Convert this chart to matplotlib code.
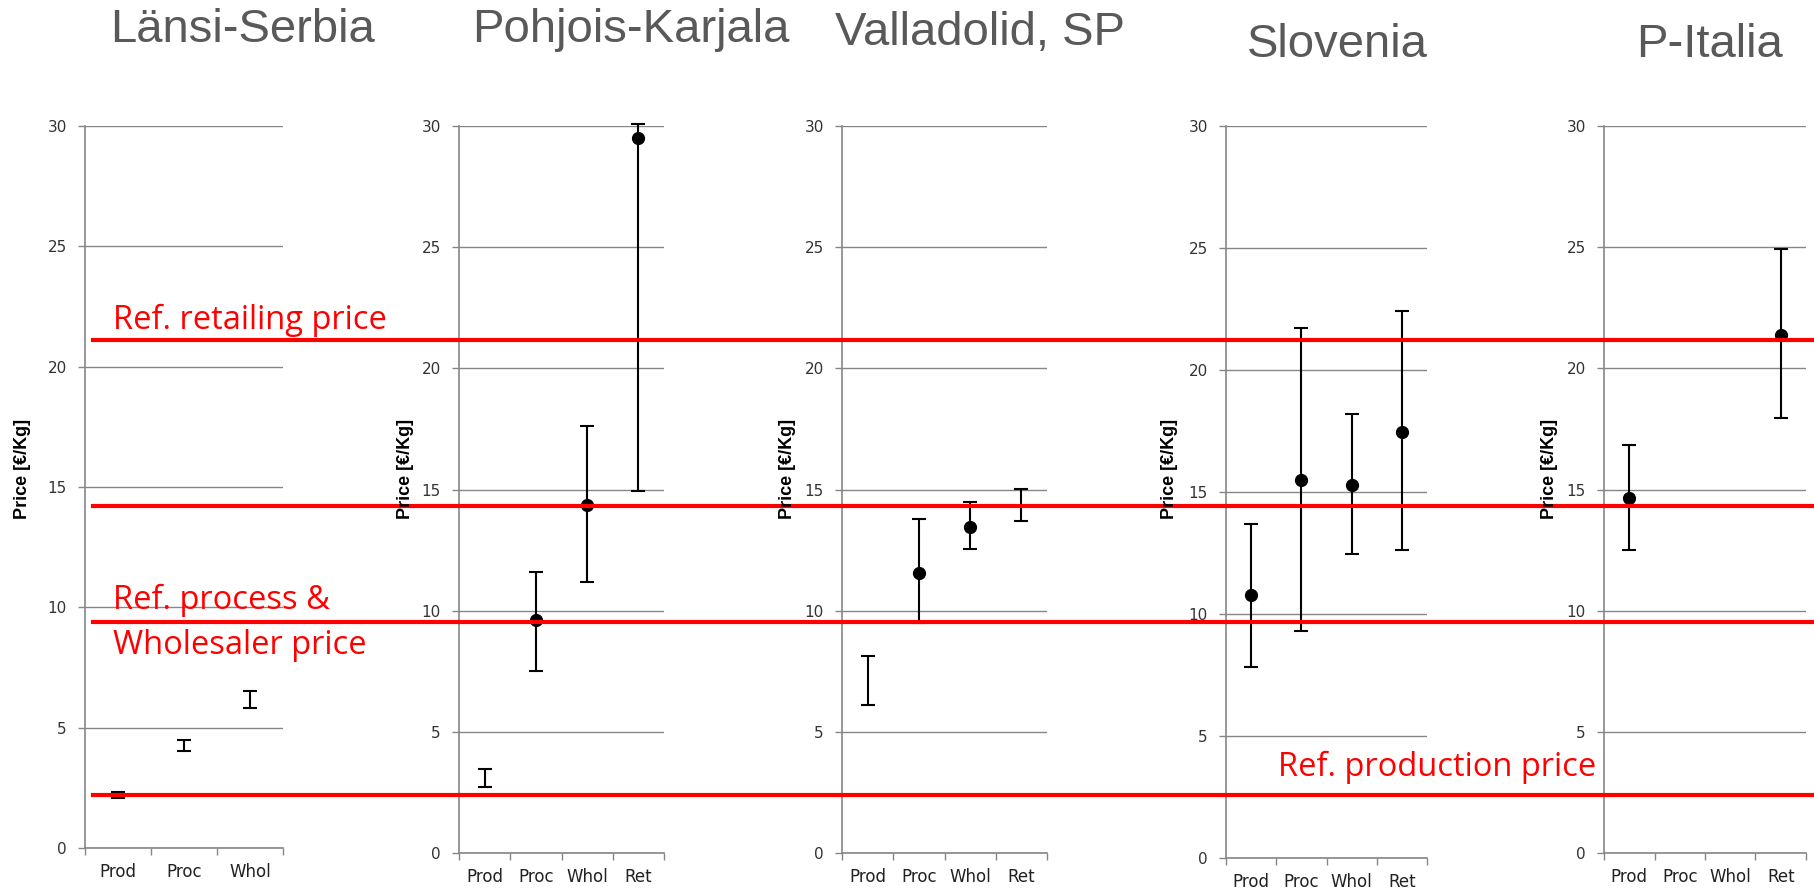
import numpy as np
import matplotlib.pyplot as plt

nan = np.nan

# panel titles and categories
regions = ['Länsi-Serbia', 'Pohjois-Karjala', 'Valladolid, SP', 'Slovenia', 'P-Italia']
cats = [['Prod', 'Proc', 'Whol'],
        ['Prod', 'Proc', 'Whol', 'Ret'],
        ['Prod', 'Proc', 'Whol', 'Ret'],
        ['Prod', 'Proc', 'Whol', 'Ret'],
        ['Prod', 'Proc', 'Whol', 'Ret']]

# price ranges (low / high) and mean, €/kg
low = [[2.08, 4.02, 5.83],
       [2.74, 7.52, 11.2, 14.95],
       [6.1, 9.5, 12.54, 13.68],
       [7.83, 9.31, 12.47, 12.62],
       [12.52, nan, nan, 17.96]]
high = [[2.33, 4.48, 6.54],
        [3.47, 11.6, 17.63, 30.1],
        [8.14, 13.8, 14.47, 15.03],
        [13.67, 21.72, 18.21, 22.42],
        [16.83, nan, nan, 24.93]]
mean = [[nan, nan, nan],
        [nan, 9.6, 14.37, 29.5],
        [nan, 11.56, 13.47, nan],
        [10.78, 15.49, 15.3, 17.47],
        [14.63, nan, nan, 21.38]]

# reference prices: production, process & wholesale, -, retail
ref_prices = [2.2, 9.4, 14.2, 21.1]

W, H = 1814, 889
fig = plt.figure(figsize=(W / 100, H / 100), dpi=100)

# panel boxes in pixels: left, right, top, bottom
boxes = [(85, 283, 126, 848),
         (459, 664, 126, 853),
         (842, 1047, 126, 853),
         (1226, 1427, 126, 858),
         (1604, 1806, 126, 853)]
ylab_x = [23, 405, 788, 1170, 1550]
titles_pos = [(243, 30), (631, 30), (980, 33), (1337, 45), (1709, 45)]

grid_c = '#868686'
for i, name in enumerate(regions):
    l, r, t, b = boxes[i]
    ax = fig.add_axes([l / W, (H - b) / H, (r - l) / W, (b - t) / H])
    n = len(cats[i])
    x = np.arange(n) + 0.5
    lo = np.array(low[i])
    hi = np.array(high[i])
    mid = (lo + hi) / 2
    ax.errorbar(x, mid, yerr=(hi - lo) / 2, fmt='none', ecolor='black',
                elinewidth=1.5, capsize=5, capthick=1.5, clip_on=False, zorder=3)
    ax.plot(x, mean[i], 'o', color='black', ms=8.5, clip_on=False, zorder=4)

    ax.set_xlim(0, n)
    ax.set_ylim(0, 30)
    ax.set_yticks(range(0, 31, 5))
    ax.yaxis.grid(True, color=grid_c, lw=1)
    ax.set_axisbelow(True)
    ax.set_xticks(x)
    ax.set_xticklabels(cats[i])
    ax.set_xticks(np.arange(n + 1), minor=True)
    ax.tick_params(axis='x', which='major', length=0, pad=11, labelsize=12, labelcolor='#222222')
    ax.tick_params(axis='x', which='minor', length=5, color=grid_c, width=1)
    ax.tick_params(axis='y', length=5, color=grid_c, width=1, pad=8,
                   labelsize=11, labelcolor='#333333')
    for s in ['top', 'right']:
        ax.spines[s].set_visible(False)
    for s in ['left', 'bottom']:
        ax.spines[s].set_color(grid_c)
        ax.spines[s].set_linewidth(1.2)

    fig.text(ylab_x[i] / W, (H - 469) / H, 'Price [€/Kg]', rotation=90,
             ha='center', va='center', fontsize=13, fontweight='bold',
             family=['Liberation Sans', 'DejaVu Sans'])
    tx, ty = titles_pos[i]
    fig.text(tx / W, (H - ty) / H, name, ha='center', va='center',
             fontsize=34, color='#595959',
             family=['Liberation Sans', 'DejaVu Sans'])

# red reference lines across the whole figure, scaled like the first panel
l, r, t, b = boxes[0]
ref = fig.add_axes([0, (H - b) / H, 1, (b - t) / H])
ref.set_xlim(0, 1)
ref.set_ylim(0, 30)
ref.axis('off')
ref.patch.set_alpha(0)
for v in ref_prices:
    ref.axhline(v, xmin=93 / W, xmax=1, color='#ff0000', lw=3, zorder=10)

red_font = dict(color='#ff0000', fontsize=23.5, family=['Open Sans', 'DejaVu Sans'],
                ha='left', va='center')
fig.text(113 / W, (H - 320) / H, 'Ref. retailing price', **red_font)
fig.text(113 / W, (H - 600) / H, 'Ref. process &', **red_font)
fig.text(113 / W, (H - 645) / H, 'Wholesaler price', **red_font)
fig.text(1278 / W, (H - 767) / H, 'Ref. production price', **red_font)

fig.savefig('out.png', dpi=100)
